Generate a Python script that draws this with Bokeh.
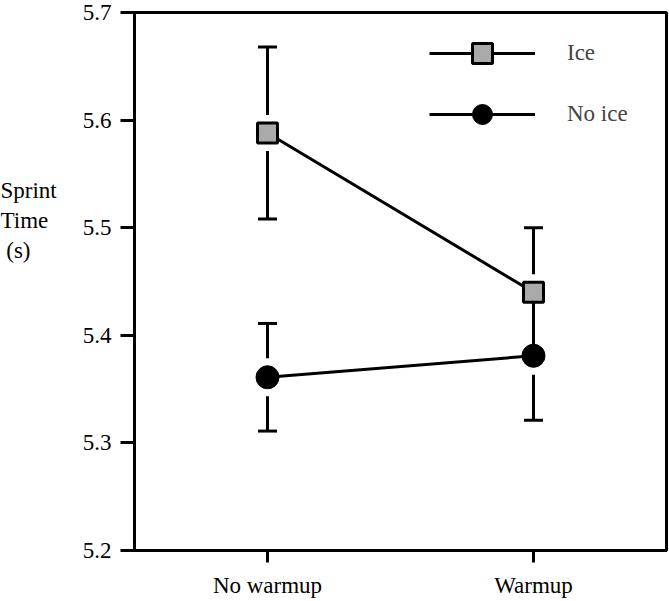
from bokeh.plotting import figure
from bokeh.layouts import row
from bokeh.models import (ColumnDataSource, FixedTicker, Legend, LegendItem,
                          Range1d, NumeralTickFormatter)
from bokeh.core.properties import value
from bokeh.embed import file_html
from bokeh.resources import INLINE

# ---- data ----
groups = ["No warmup", "Warmup"]
xpos = [1, 2]
ice_mean = [5.588, 5.44]
ice_err = [0.08, 0.06]
noice_mean = [5.361, 5.381]
noice_err = [0.05, 0.06]
y_ticks = [5.2, 5.3, 5.4, 5.5, 5.6, 5.7]
y_title = "Sprint\nTime\n\u00a0(s)"

FONT = "Liberation Serif"
FS = "23px"

H = 601
TOP, BOTTOM = 12, 51
Y0, Y1 = 5.2, 5.7
LABEL_W = 70

# ---- left strip holding the horizontal y-axis title ----
lab = figure(width=LABEL_W, height=H, output_backend="svg", toolbar_location=None,
             x_range=Range1d(0, 1), y_range=Range1d(Y0, Y1),
             min_border_left=0, min_border_right=0, min_border_top=TOP,
             min_border_bottom=BOTTOM)
lab.axis.visible = False
lab.grid.visible = False
lab.outline_line_color = None
lab.text(x=[0], y=[5.507], text=[y_title], text_font=value(FONT),
         text_font_size=value(FS), text_align="left", text_baseline="middle",
         text_line_height=1.2, text_color="black")

# ---- main plot ----
p = figure(width=669 - LABEL_W, height=H, output_backend="svg", toolbar_location=None,
           x_range=Range1d(0.5, 2.5), y_range=Range1d(Y0, Y1),
           min_border_left=64, min_border_right=3, min_border_top=TOP,
           min_border_bottom=BOTTOM)
p.background_fill_color = "white"
p.border_fill_color = "white"
p.outline_line_color = "black"
p.outline_line_width = 3
p.xgrid.visible = False
p.ygrid.visible = False

for ax in (p.xaxis[0], p.yaxis[0]):
    ax.axis_line_width = 3
    ax.major_tick_line_width = 3
    ax.minor_tick_line_color = None
    ax.major_tick_in = 0
    ax.major_label_text_font = FONT
    ax.major_label_text_font_size = FS
    ax.major_label_text_color = "black"

p.yaxis.ticker = FixedTicker(ticks=y_ticks)
p.yaxis.formatter = NumeralTickFormatter(format="0.0")
p.yaxis.major_tick_out = 14
p.yaxis.major_label_standoff = 9
p.xaxis.ticker = FixedTicker(ticks=xpos)
p.xaxis.major_label_overrides = {x: g for x, g in zip(xpos, groups)}
p.xaxis.major_tick_out = 12
p.xaxis.major_label_standoff = 10

# pixel -> data conversion for the small gap between a marker and its error bar
frame_h = H - TOP - BOTTOM
px = (Y1 - Y0) / frame_h

def src(mean, err, gap_px):
    g = gap_px * px
    return ColumnDataSource(dict(
        x=xpos, y=mean,
        lo=[m - e for m, e in zip(mean, err)],
        hi=[m + e for m, e in zip(mean, err)],
        lo_in=[m - g for m in mean],
        hi_in=[m + g for m in mean]))

s_ice = src(ice_mean, ice_err, 18)
s_no = src(noice_mean, noice_err, 19)

for s in (s_ice, s_no):
    p.segment(x0="x", x1="x", y0="hi_in", y1="hi", source=s, line_width=3, line_color="black")
    p.segment(x0="x", x1="x", y0="lo_in", y1="lo", source=s, line_width=3, line_color="black")
    p.scatter("x", "hi", source=s, marker="dash", size=19, line_width=3, line_color="black")
    p.scatter("x", "lo", source=s, marker="dash", size=19, line_width=3, line_color="black")

l_ice = p.line("x", "y", source=s_ice, line_width=3, line_color="black")
l_no = p.line("x", "y", source=s_no, line_width=3, line_color="black")
m_ice = p.scatter("x", "y", source=s_ice, marker="square", size=20,
                  fill_color="#aaaaaa", line_color="black", line_width=3)
m_no = p.scatter("x", "y", source=s_no, marker="circle", size=23,
                 fill_color="black", line_color="black", line_width=1)

legend = Legend(items=[LegendItem(label="Ice", renderers=[l_ice, m_ice]),
                       LegendItem(label="No ice", renderers=[l_no, m_no])],
                location=(295, 411), orientation="vertical",
                glyph_width=106, glyph_height=50, spacing=11, padding=0, margin=0,
                label_standoff=32, label_text_font=FONT, label_text_font_size=FS,
                border_line_color=None, background_fill_alpha=0)
p.add_layout(legend)

layout = row(lab, p, spacing=0)
open("out.html", "w").write(file_html(layout, INLINE))
